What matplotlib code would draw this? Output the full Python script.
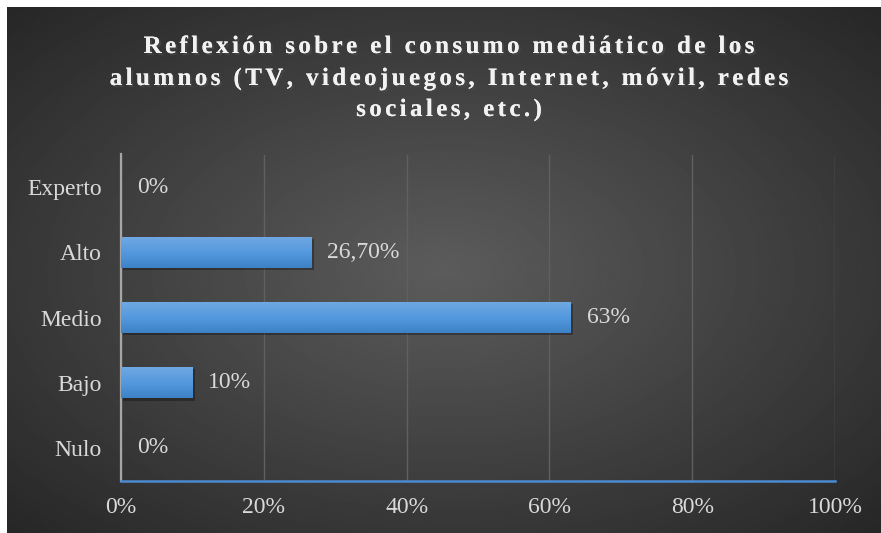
import numpy as np
import matplotlib
matplotlib.use("Agg")
import matplotlib.pyplot as plt
import matplotlib.patheffects as pe
from matplotlib.colors import LinearSegmentedColormap
from matplotlib.textpath import TextToPath
from matplotlib.font_manager import FontProperties

# data
categories = ['Nulo', 'Bajo', 'Medio', 'Alto', 'Experto']
values = [0, 10, 63, 26.7, 0]
labels = ['0%', '10%', '63%', '26,70%', '0%']
xticks = [0, 20, 40, 60, 80, 100]
xticklabels = ['0%', '20%', '40%', '60%', '80%', '100%']
title_lines = ['Reflexión sobre el consumo mediático de los',
               'alumnos (TV, videojuegos, Internet, móvil, redes',
               'sociales, etc.)']

W, H = 881, 533
fig = plt.figure(figsize=(W / 100, H / 100), dpi=100)
fig.patch.set_facecolor('white')

# dark radial background
bg = fig.add_axes([7 / W, 0, 1 - 7 / W, 1 - 7 / H])
bg.set_axis_off()
yy, xx = np.mgrid[0:1:300j, 0:1:500j]
r = np.sqrt(((xx - 0.5) / 0.75) ** 2 + ((yy - 0.5) / 0.75) ** 2)
shade = 0.36 - 0.22 * np.clip(r, 0, 1)
bg.imshow(shade, cmap='gray', vmin=0, vmax=1, aspect='auto',
          extent=[0, 1, 0, 1], interpolation='bilinear')

plt.rcParams['font.family'] = ['Liberation Serif', 'DejaVu Serif']
fs = 17

ax = fig.add_axes([121 / W, (H - 480.5) / H, (835 - 121) / W, (480.5 - 154.5) / H])
ax.set_facecolor('none')
ax.set_xlim(0, 100)
ax.set_ylim(-0.5, len(categories) - 0.5)

y = np.arange(len(categories))
bar_h = 0.48
grad = np.linspace(0, 1, 50).reshape(-1, 1)
bcmap = LinearSegmentedColormap.from_list('b', ['#3d82c6', '#5599de', '#70a9e2'])
for yi, v in zip(y, values):
    if v <= 0:
        continue
    # soft shadow
    ax.barh(yi - 0.035, v, height=bar_h, left=0.35, color='black', alpha=0.3, zorder=2)
    bar = ax.barh(yi, v, height=bar_h, color='#5599de', zorder=3)[0]
    im = ax.imshow(grad, cmap=bcmap, aspect='auto', origin='lower',
                   extent=[0, v, yi - bar_h / 2, yi + bar_h / 2], zorder=4)
    im.set_clip_path(bar)

for yi, v, lab in zip(y, values, labels):
    ax.text(v + 2.2, yi, lab, va='center', ha='left', fontsize=fs, color='#d9d9d9', zorder=5)

ax.set_xticks(xticks)
ax.set_xticklabels(xticklabels)
ax.set_yticks(y)
ax.set_yticklabels(categories)
ax.tick_params(axis='both', length=0, labelsize=fs, labelcolor='#d9d9d9')
ax.tick_params(axis='x', pad=12)
ax.tick_params(axis='y', pad=14)
ax.grid(axis='x', color='#606060', lw=1, zorder=0)
ax.set_axisbelow(True)
for s in ['top', 'right']:
    ax.spines[s].set_visible(False)
ax.spines['left'].set_color('#a6a6a6')
ax.spines['left'].set_linewidth(1.6)
ax.spines['bottom'].set_color('#4a8ad0')
ax.spines['bottom'].set_linewidth(1.8)

# title with letter spacing, drawn char by char
tprop = FontProperties(family='Liberation Serif', weight='bold', size=18)
ttp = TextToPath()
def char_w(c):
    w, h, d = ttp.get_text_width_height_descent(c, tprop, ismath=False)
    return w * 100 / 72

spacing = 3.4
baselines = [53, 85, 116]
shadow = [pe.withSimplePatchShadow(offset=(1.5, -1.5), alpha=0.7), pe.Normal()]
for line, base in zip(title_lines, baselines):
    widths = [char_w(c) for c in line]
    total = sum(widths) + spacing * (len(line) - 1)
    x = 449 - total / 2
    for c, w in zip(line, widths):
        if c != ' ':
            fig.text(x / W, 1 - base / H, c, ha='left', va='baseline',
                     fontproperties=tprop, color='#f2f2f2', path_effects=shadow)
        x += w + spacing

fig.savefig('out.png', dpi=100, facecolor=fig.get_facecolor())
